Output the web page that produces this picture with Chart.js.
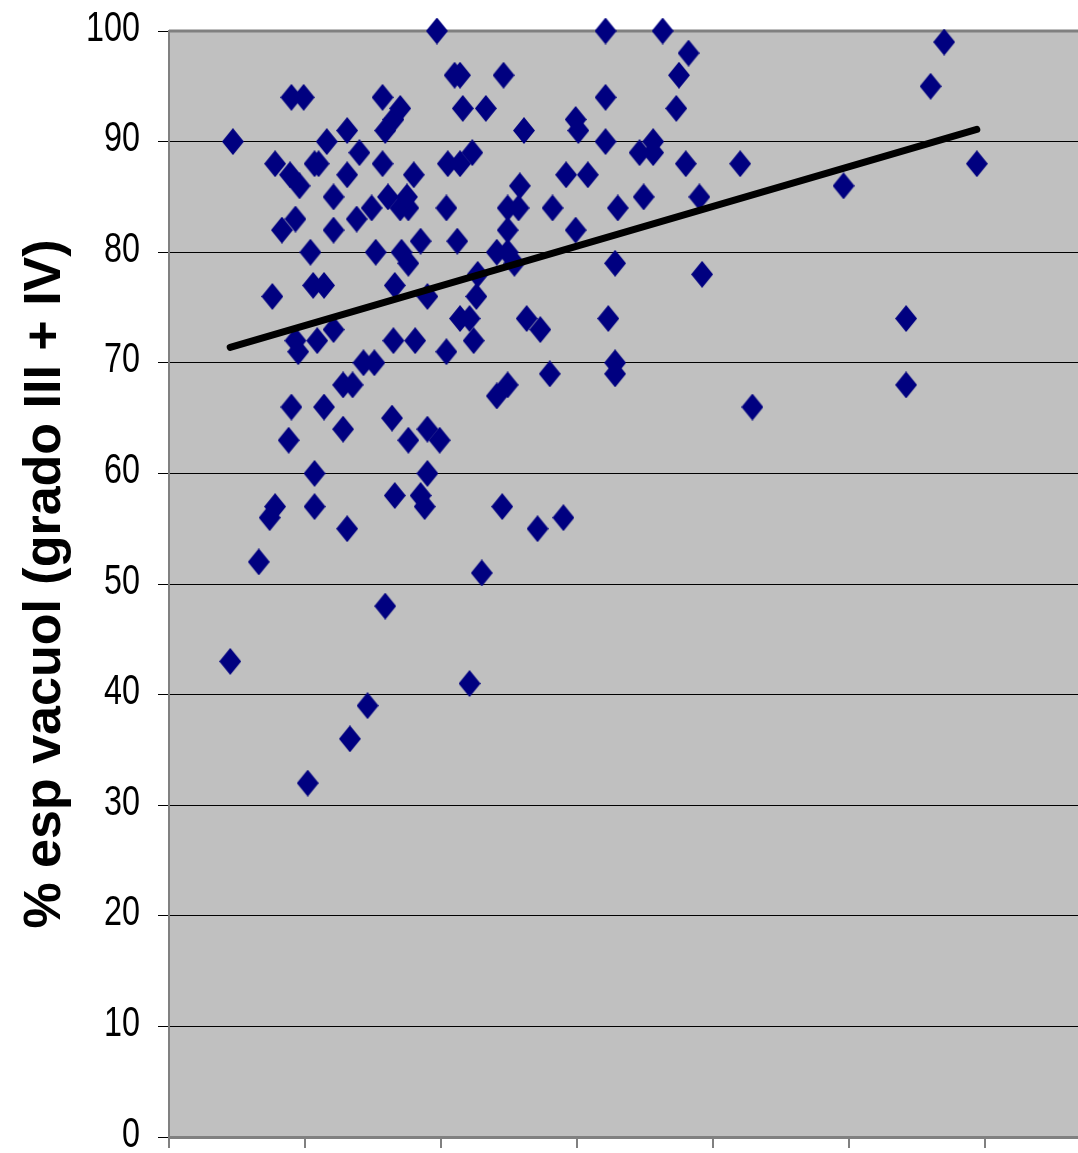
<!DOCTYPE html>
<html>
<head>
<meta charset="utf-8">
<script src="https://cdn.jsdelivr.net/npm/chart.js@4"></script>
<style>
    html, body { margin: 0; padding: 0; background: #fff; overflow: hidden; }
    #scatter-chart { display: block; }
</style>
</head>
<body>
<canvas id="scatter-chart" width="1078" height="1153"></canvas>
<script>
// values (x axis has no labels, ticks every 1 unit)
const pointsX = [
    0.47, 0.45, 0.66, 0.74, 0.78, 0.76, 0.78, 0.83, 0.88, 0.90,
    0.90, 0.99, 0.89, 0.96, 0.93, 0.93, 0.95, 1.02, 1.04, 1.07,
    1.07, 1.07, 1.10, 1.06, 1.14, 1.09, 1.14, 1.16, 1.21, 1.21,
    1.21, 1.28, 1.35, 1.28, 1.31, 1.31, 1.31, 1.33, 1.38, 1.40,
    1.43, 1.51, 1.46, 1.49, 1.52, 1.57, 1.57, 1.59, 1.65, 1.70,
    1.59, 1.61, 1.64, 1.66, 1.65, 1.66, 1.70, 1.76, 1.75, 1.71,
    1.76, 1.76, 1.80, 1.81, 1.85, 1.85, 1.88, 1.90, 1.90, 1.90,
    1.97, 1.99, 2.04, 2.04, 2.05, 2.12, 2.10, 2.14, 2.14, 2.14,
    2.21, 2.16, 2.21, 2.23, 2.24, 2.26, 2.27, 2.30, 2.33, 2.41,
    2.41, 2.45, 2.46, 2.49, 2.49, 2.49, 2.49, 2.54, 2.57, 2.58,
    2.61, 2.63, 2.73, 2.71, 2.80, 2.82, 2.90, 2.92, 2.99, 3.01,
    2.99, 3.08, 3.21, 3.21, 3.21, 3.23, 3.28, 3.28, 3.28, 3.30,
    3.46, 3.49, 3.56, 3.56, 3.63, 3.73, 3.75, 3.80, 3.82, 3.90,
    3.92, 4.20, 4.29, 4.96, 5.42, 5.42, 5.60, 5.70, 5.94
];
const pointsY = [
    90, 43, 52, 56, 57, 76, 88, 82, 63, 66,
    94, 94, 87, 86, 83, 72, 71, 32, 80, 57,
    60, 88, 88, 77, 77, 72, 66, 90, 85, 82,
    73, 68, 68, 64, 91, 87, 55, 36, 83, 89,
    70, 70, 39, 84, 80, 94, 88, 91, 92, 93,
    48, 85, 65, 77, 72, 58, 84, 84, 85, 80,
    79, 63, 87, 72, 81, 58, 57, 76, 60, 64,
    100, 63, 84, 71, 88, 81, 96, 96, 88, 74,
    74, 93, 41, 89, 72, 76, 78, 51, 93, 67,
    80, 57, 96, 84, 82, 68, 80, 79, 84, 86,
    91, 74, 73, 55, 69, 84, 56, 87, 92, 91,
    82, 87, 100, 94, 90, 74, 79, 70, 69, 84,
    89, 85, 90, 89, 100, 93, 96, 88, 98, 85,
    78, 88, 66, 86, 74, 68, 95, 99, 88
];
// linear trend line ends, as drawn
const trendX = [0.45, 5.94];
const trendY = [71.4, 91.1];
const yTicks = [0, 10, 20, 30, 40, 50, 60, 70, 80, 90, 100];
const xTicks = [0, 1, 2, 3, 4, 5, 6];

function makeDiamond(w, h, color) {
    const c = document.createElement('canvas');
    c.width = w;
    c.height = h;
    const ctx = c.getContext('2d');
    ctx.fillStyle = color;
    ctx.beginPath();
    ctx.moveTo(w / 2, 0);
    ctx.lineTo(w, h / 2);
    ctx.lineTo(w / 2, h);
    ctx.lineTo(0, h / 2);
    ctx.closePath();
    ctx.fill();
    return c;
}

function noPadding(scale) {
    scale.paddingTop = 0;
    scale.paddingBottom = 0;
    scale.paddingLeft = 0;
    scale.paddingRight = 0;
}

const plotBackground = {
    id: 'plotBackground',
    beforeDraw: function (chart) {
        const a = chart.chartArea;
        const ctx = chart.ctx;
        ctx.save();
        ctx.fillStyle = '#c0c0c0';
        ctx.fillRect(a.left, a.top, a.right - a.left, a.bottom - a.top);
        ctx.restore();
    },
    beforeDatasetsDraw: function (chart) {
        const a = chart.chartArea;
        const ctx = chart.ctx;
        ctx.save();
        ctx.strokeStyle = '#808080';
        ctx.lineWidth = 3;
        ctx.beginPath();
        ctx.moveTo(a.left, a.top);
        ctx.lineTo(a.right, a.top);
        ctx.stroke();
        ctx.restore();
    }
};

// the original tick font is a narrow Arial; draw the y labels squeezed
const narrowTicks = {
    id: 'narrowTicks',
    afterDraw: function (chart) {
        const y = chart.scales.y;
        const ctx = chart.ctx;
        ctx.save();
        ctx.fillStyle = '#000000';
        ctx.font = "42px 'Liberation Sans', Arial, sans-serif";
        ctx.textAlign = 'right';
        ctx.textBaseline = 'middle';
        yTicks.forEach(function (v) {
            ctx.save();
            ctx.translate(140, y.getPixelForValue(v) - 2);
            ctx.scale(0.77, 1);
            ctx.fillText(String(v), 0, 0);
            ctx.restore();
        });
        ctx.restore();
    }
};

const scatterData = pointsX.map(function (x, i) { return { x: x, y: pointsY[i] }; });
const trendData = trendX.map(function (x, i) { return { x: x, y: trendY[i] }; });

new Chart(document.getElementById('scatter-chart'), {
    type: 'scatter',
    data: {
        datasets: [{
            label: 'Tendencia',
            data: trendData,
            showLine: true,
            borderColor: '#000000',
            borderWidth: 7,
            borderCapStyle: 'round',
            pointRadius: 0,
            clip: false,
            order: 0
        }, {
            label: 'Datos',
            data: scatterData,
            pointStyle: makeDiamond(22, 27, '#000080'),
            pointRadius: 11,
            clip: false,
            order: 1
        }]
    },
    options: {
        responsive: false,
        animation: false,
        layout: {
            autoPadding: false,
            padding: { top: 31, right: 0, bottom: 0, left: 0 }
        },
        plugins: {
            legend: { display: false },
            tooltip: { enabled: false }
        },
        scales: {
            x: {
                type: 'linear',
                min: 0,
                max: 6.684,
                afterBuildTicks: function (scale) {
                    scale.ticks = xTicks.map(function (v) { return { value: v }; });
                },
                afterFit: function (scale) {
                    scale.height = 16;
                    noPadding(scale);
                },
                ticks: { display: false },
                grid: {
                    drawOnChartArea: false,
                    drawTicks: true,
                    tickLength: 11,
                    color: '#808080',
                    lineWidth: 2
                },
                border: { display: true, color: '#808080', width: 3 }
            },
            y: {
                type: 'linear',
                min: 0,
                max: 100,
                afterBuildTicks: function (scale) {
                    scale.ticks = yTicks.map(function (v) { return { value: v }; });
                },
                afterFit: function (scale) {
                    scale.width = 169;
                    noPadding(scale);
                },
                ticks: { display: false },
                grid: {
                    color: '#000000',
                    lineWidth: 1,
                    drawTicks: true,
                    tickLength: 11
                },
                border: { display: true, color: '#808080', width: 2 },
                title: {
                    display: true,
                    text: '% esp vacuol (grado III + IV)',
                    color: '#000000',
                    padding: { top: 14, bottom: 0 },
                    font: { family: "'Liberation Sans', Arial, sans-serif", size: 52, weight: 'bold' }
                }
            }
        }
    },
    plugins: [plotBackground, narrowTicks]
});
</script>
</body>
</html>
